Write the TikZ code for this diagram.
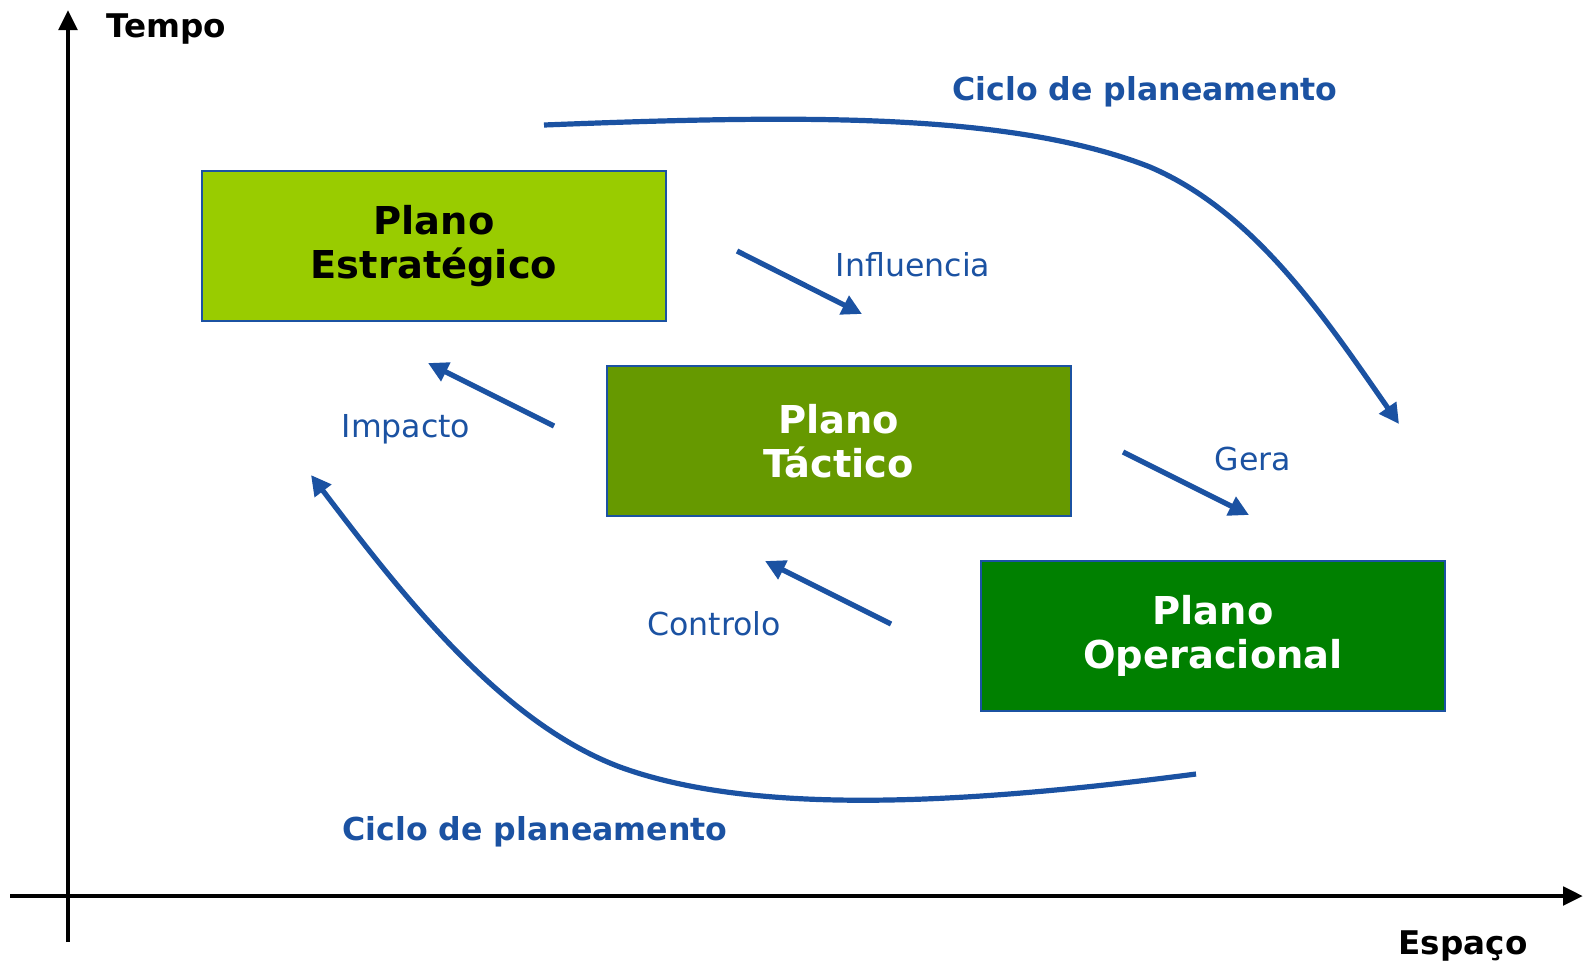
\documentclass[tikz,border=0pt]{standalone}
\usepackage{fontspec}
\setmainfont{DejaVu Sans}
\usetikzlibrary{arrows.meta}
\definecolor{cblue}{HTML}{1B52A2}
\definecolor{gOne}{HTML}{99CC00}
\definecolor{gTwo}{HTML}{669900}
\definecolor{gThree}{HTML}{008000}
\tikzset{
  plan/.style={draw=cblue, line width=1pt, minimum width=232pt, minimum height=75pt, font=\fontsize{19.2}{22}\selectfont\bfseries, align=center, inner sep=0pt},
  axis/.style={line width=2.4pt, -{Triangle[length=10pt,width=9pt]}},
  barrow/.style={draw=cblue, line width=2.6pt, -{Triangle[length=10pt,width=10pt]}},
  lbl/.style={text=cblue, font=\fontsize{15.8}{18}\selectfont},
  cyc/.style={text=cblue, font=\fontsize{15.8}{18}\selectfont\bfseries},
  axl/.style={font=\fontsize{16.3}{18}\selectfont\bfseries}
}
\begin{document}
\begin{tikzpicture}[x=0.5pt,y=-0.5pt]
\useasboundingbox (0,0) rectangle (1583,971);
% axes
\coordinate (yb) at (68,942);
\coordinate (yt) at (68,10);
\coordinate (xl) at (10,896);
\coordinate (xr) at (1583,896);
\draw[axis] (yb) -- (yt);
\draw[axis] (xl) -- (xr);
\node[axl] (tempo) at (166,29) {Tempo};
\node[axl] (espaco) at (1463,946) {Espaço};
% boxes
\node[plan, fill=gOne, text=black] (est) at (434,246) {Plano\\Estratégico};
\node[plan, fill=gTwo, text=white] (tac) at (838.5,441) {Plano\\Táctico};
\node[plan, fill=gThree, text=white] (ope) at (1213,636) {Plano\\Operacional};
% labels
\node[cyc] (ctop) at (1145,92) {Ciclo de planeamento};
\node[cyc] (cbot) at (535,832) {Ciclo de planeamento};
\node[lbl] (infl) at (913,265) {Influencia};
\node[lbl] (imp) at (406,429) {Impacto};
\node[lbl] (gera) at (1253,459) {Gera};
\node[lbl] (ctrl) at (714,624) {Controlo};
% short arrows
\coordinate (a1s) at (737,251); \coordinate (a1e) at (862,314);
\coordinate (a2s) at (554,426); \coordinate (a2e) at (428,363);
\coordinate (a3s) at (1123,452); \coordinate (a3e) at (1249,515);
\coordinate (a4s) at (891,624); \coordinate (a4e) at (765,561);
\draw[barrow] (a1s) -- (a1e);
\draw[barrow] (a2s) -- (a2e);
\draw[barrow] (a3s) -- (a3e);
\draw[barrow] (a4s) -- (a4e);
% cycle curves
\coordinate (c1s) at (544,125);
\coordinate (c1m) at (1150,167);
\coordinate (c1e) at (1399,424);
\draw[barrow] (c1s) .. controls (800,115) and (1010,112) .. (c1m) .. controls (1255,212) and (1325,318) .. (c1e);
\coordinate (c2s) at (1196,774);
\coordinate (c2m) at (620,767);
\coordinate (c2e) at (311,475);
\draw[barrow] (c2s) .. controls (980,802) and (760,818) .. (c2m) .. controls (500,722) and (400,592) .. (c2e);
\end{tikzpicture}
\end{document}
